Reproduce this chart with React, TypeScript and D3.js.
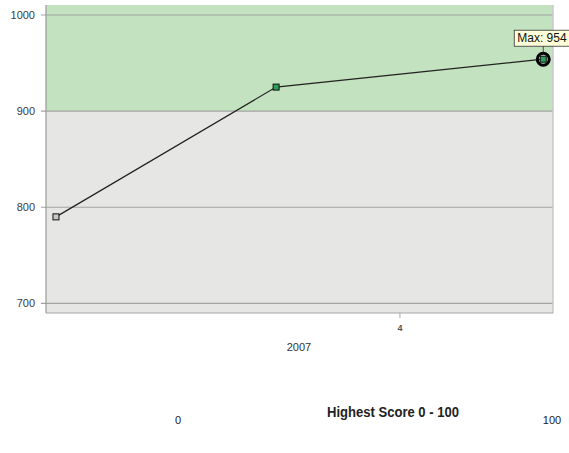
import React from "react";
import * as d3 from "d3";

const xPositions = [1, 2.92, 5.25];
const scores = [790, 925, 954];
const yTicks = [700, 800, 900, 1000];
const xTicks = [4];
const xTickLabels = ["4"];
const yearLabel = "2007";
const bandThreshold = 900;
const maxLabel = "Max: 954";
const bottomLabels = ["0", "Highest Score 0 - 100", "100"];

export default function App() {
  const W = 569, H = 453;
  const left = 46, right = 553, top = 5, bottom = 313;
  const x = d3.scaleLinear().domain([0.913, 5.335]).range([left, right]);
  const y = d3.scaleLinear().domain([690, 1010.4]).range([bottom, top]);
  const line = d3.line<number>().x((_, i) => x(xPositions[i])).y((d) => y(d));
  const maxIdx = d3.maxIndex(scores);
  const mx = x(xPositions[maxIdx]);
  const my = y(scores[maxIdx]);
  const font = "'Liberation Sans', Arial, sans-serif";
  return (
    <svg width={W} height={H} style={{ position: "absolute", left: 0, top: 0 }}>
      <rect x={0} y={0} width={W} height={H} fill="#fff" />
      <rect x={left} y={y(bandThreshold)} width={right - left} height={bottom - y(bandThreshold)} fill="#e6e6e4" />
      <rect x={left} y={top} width={right - left} height={y(bandThreshold) - top} fill="#c3e2bf" />
      {yTicks.map((t) => (
        <g key={t}>
          <line x1={left - 5} x2={right} y1={y(t)} y2={y(t)} stroke="#a3a3a3" strokeWidth={1.2} />
          <text x={35} y={y(t) + 4} textAnchor="end" fontFamily={font} fontSize={11} fill="#3a3a3a">{t}</text>
        </g>
      ))}
      <line x1={left} x2={left} y1={top} y2={bottom} stroke="#9a9a9a" strokeWidth={1.2} />
      <line x1={right} x2={right} y1={top} y2={bottom} stroke="#c8c8c8" strokeWidth={1.5} />
      <line x1={left} x2={right} y1={bottom} y2={bottom} stroke="#a3a3a3" strokeWidth={1.2} />
      {xTicks.map((t, i) => (
        <g key={t}>
          <line x1={x(t)} x2={x(t)} y1={bottom} y2={bottom + 5} stroke="#aaa" />
          <text x={x(t)} y={bottom + 18} textAnchor="middle" fontFamily={font} fontSize={9} fontWeight="bold" fill="#555">{xTickLabels[i]}</text>
        </g>
      ))}
      <text x={299} y={351} textAnchor="middle" fontFamily={font} fontSize={11} fill="#333">{yearLabel}</text>
      <path d={line(scores) || ""} fill="none" stroke="#222" strokeWidth={1.2} />
      {scores.map((s, i) => (
        <rect key={i} x={x(xPositions[i]) - 3} y={y(s) - 3} width={6} height={6}
          fill={s >= bandThreshold ? "#2e9e5b" : "#c8c8c8"} stroke="#111" strokeWidth={1} />
      ))}
      <circle cx={mx} cy={my} r={6} fill="none" stroke="#000" strokeWidth={3} />
      <rect x={mx - 29} y={my - 29} width={64} height={16} fill="#ffffd9" stroke="#333" strokeWidth={0.8} />
      <line x1={mx} x2={mx} y1={my - 13} y2={my - 7} stroke="#333" strokeWidth={0.8} />
      <text x={mx - 26} y={my - 17} fontFamily={font} fontSize={12} fill="#111">{maxLabel}</text>
      <text x={178} y={424} textAnchor="middle" fontFamily={font} fontSize={11} fill="#222">{bottomLabels[0]}</text>
      <text x={327} y={417} fontFamily={font} fontSize={14} fontWeight="bold" textLength={132} lengthAdjust="spacingAndGlyphs" fill="#222">{bottomLabels[1]}</text>
      <text x={552} y={424} textAnchor="middle" fontFamily={font} fontSize={11} fill="#222">{bottomLabels[2]}</text>
    </svg>
  );
}
